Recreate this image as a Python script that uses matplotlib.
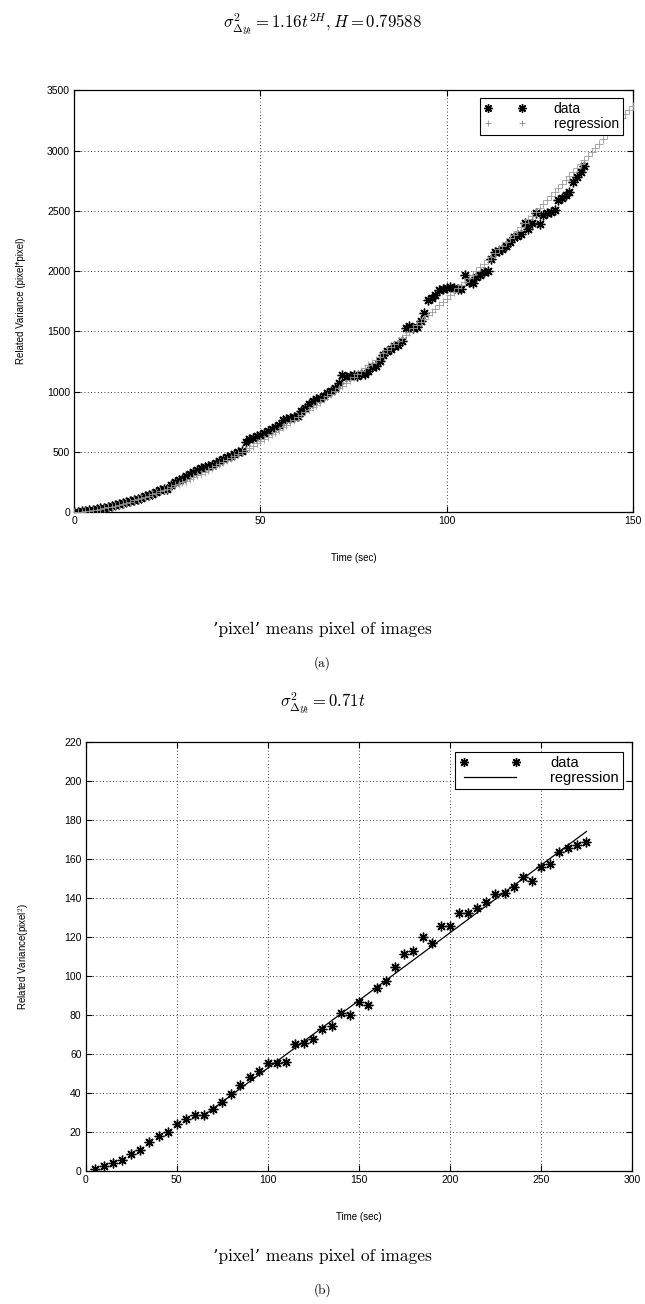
import matplotlib
matplotlib.use("Agg")
import matplotlib.pyplot as plt
from matplotlib.lines import Line2D

plt.rcParams['font.family'] = ['Liberation Sans', 'DejaVu Sans']
plt.rcParams['mathtext.fontset'] = 'cm'

# ---------------- panel (a) ----------------
t_a = list(range(0, 138))
data_a = [
    0, 3, 6, 10, 14, 18, 24, 30, 36, 43,
    50, 57, 65, 74, 82, 90, 100, 110, 120, 130,
    140, 152, 165, 180, 190, 195, 225, 245, 262, 278,
    295, 312, 330, 345, 362, 375, 380, 390, 405, 420,
    440, 455, 468, 485, 495, 510, 580, 605, 615, 628,
    640, 655, 675, 690, 705, 725, 760, 775, 780, 785,
    800, 840, 865, 900, 925, 935, 950, 965, 985, 1005,
    1030, 1070, 1140, 1125, 1130, 1135, 1130, 1145, 1150, 1170,
    1200, 1215, 1250, 1300, 1335, 1355, 1375, 1390, 1420, 1530,
    1545, 1525, 1540, 1590, 1650, 1760, 1780, 1800, 1845, 1855,
    1860, 1865, 1860, 1850, 1855, 1965, 1910, 1900, 1950, 1965,
    1990, 2005, 2100, 2155, 2170, 2185, 2210, 2245, 2280, 2295,
    2310, 2400, 2350, 2400, 2480, 2395, 2465, 2480, 2495, 2510,
    2590, 2610, 2635, 2660, 2740, 2780, 2820, 2870,
]
t_reg_a = list(range(0, 151))
reg_a = [
    0, 1.2, 3.5, 6.7, 10.5, 15.0, 20.1, 25.7, 31.8, 38.3, 45.3,
    52.7, 60.6, 68.8, 77.4, 86.4, 95.8, 105.5, 115.5, 125.9, 136.5,
    148.2, 159.9, 171.5, 183.2, 194.9, 208.0, 221.1, 234.2, 247.3, 260.4,
    274.9, 289.4, 303.8, 318.3, 332.8, 348.6, 364.4, 380.1, 395.9, 411.7,
    428.8, 445.8, 462.9, 479.9, 497.0, 515.1, 533.2, 551.3, 569.4, 587.5,
    606.8, 626.1, 645.4, 664.7, 684.0, 704.3, 724.5, 744.8, 765.0, 785.3,
    806.7, 828.0, 849.4, 870.7, 892.1, 914.5, 936.9, 959.2, 981.6, 1004,
    1027, 1050, 1073, 1097, 1120, 1144, 1168, 1193, 1217, 1241,
    1266, 1291, 1317, 1342, 1367, 1393, 1419, 1445, 1471, 1497,
    1524, 1551, 1578, 1605, 1632, 1660, 1687, 1715, 1742, 1770,
    1799, 1827, 1856, 1884, 1913, 1942, 1972, 2001, 2031, 2060,
    2090, 2121, 2151, 2182, 2212, 2243, 2274, 2304, 2335, 2366,
    2398, 2430, 2462, 2494, 2526, 2558, 2591, 2623, 2656, 2688,
    2721, 2755, 2788, 2822, 2855, 2889, 2923, 2957, 2990, 3024,
    3059, 3094, 3129, 3164, 3199, 3234, 3268, 3303, 3337, 3372,
]
xticks_a = [0, 50, 100, 150]
yticks_a = [0, 500, 1000, 1500, 2000, 2500, 3000, 3500]

# ---------------- panel (b) ----------------
t_b = [5, 10, 15, 20, 25, 30, 35, 40, 45, 50,
       55, 60, 65, 70, 75, 80, 85, 90, 95, 100,
       105, 110, 115, 120, 125, 130, 135, 140, 145, 150,
       155, 160, 165, 170, 175, 180, 185, 190, 195, 200,
       205, 210, 215, 220, 225, 230, 235, 240, 245, 250,
       255, 260, 265, 270, 275]
data_b = [1.2, 2.4, 4.1, 5.6, 8.5, 11.0, 14.7, 17.8, 19.8, 24.2,
          26.4, 28.8, 28.8, 31.6, 35.2, 39.7, 44.1, 48.2, 51.2, 55.6,
          55.6, 56.0, 65.1, 65.8, 67.8, 72.9, 74.2, 81.0, 79.8, 86.6,
          85.1, 93.8, 97.4, 104.5, 111.0, 112.7, 119.9, 117.0, 125.5, 125.8,
          132.3, 132.3, 134.9, 137.9, 142.0, 142.5, 145.4, 150.6, 148.5, 155.7,
          157.2, 163.3, 165.6, 167.1, 168.5]
t_reg_b = [65, 275]
reg_b = [28.5, 174.0]
xticks_b = [0, 50, 100, 150, 200, 250, 300]
yticks_b = [0, 20, 40, 60, 80, 100, 120, 140, 160, 180, 200, 220]

W, H = 645, 1304
fig = plt.figure(figsize=(W / 100, H / 100), dpi=100)

def px_axes(l, t, r, b):
    return fig.add_axes([l / W, 1 - b / H, (r - l) / W, (b - t) / H])

STAR = (8, 2, 0)
tick_fs = 7.5

def style(ax):
    ax.grid(True, linestyle=(0, (1, 3)), color='black', linewidth=0.6)
    ax.tick_params(direction='in', top=True, right=True, labelsize=tick_fs,
                   length=4, width=0.8, pad=3)
    for s in ax.spines.values():
        s.set_linewidth(0.9)

# panel (a)
ax1 = px_axes(74.3, 90.5, 632.7, 512)
ax1.plot(t_a, data_a, linestyle='none', marker=STAR, markersize=7,
         markeredgewidth=1.0, color='black', zorder=3)
ax1.plot(t_reg_a, reg_a, linestyle='none', marker='+', markersize=5.5,
         markeredgewidth=0.6, color='#9a9a9a', zorder=4)
ax1.set_xlim(0, 150)
ax1.set_ylim(0, 3500)
ax1.set_xticks(xticks_a)
ax1.set_yticks(yticks_a)
style(ax1)
ax1.set_xlabel('Time (sec)', fontsize=7, labelpad=19)
ax1.set_ylabel('Related Variance (pixel*pixel)', fontsize=7, labelpad=15)
h1 = [Line2D([], [], linestyle='none', marker=STAR, markersize=6,
             markeredgewidth=1.0, color='black'),
      Line2D([], [], linestyle='none', marker='+', markersize=5,
             markeredgewidth=0.6, color='#8a8a8a')]
leg1 = ax1.legend(h1, ['data', 'regression'], loc='upper right',
                  bbox_to_anchor=(0.9825, 0.983), numpoints=2, fontsize=10,
                  handlelength=3.0, handletextpad=2.0, borderpad=0.3,
                  borderaxespad=0, labelspacing=0.1, fancybox=False,
                  framealpha=1, edgecolor='black')
leg1.get_frame().set_linewidth(0.8)

# panel (b)
ax2 = px_axes(85.7, 741.7, 632, 1171)
ax2.plot(t_b, data_b, linestyle='none', marker=STAR, markersize=7,
         markeredgewidth=1.0, color='black', zorder=3)
ax2.plot(t_reg_b, reg_b, color='black', linewidth=0.9, zorder=4)
ax2.set_xlim(0, 300)
ax2.set_ylim(0, 220)
ax2.set_xticks(xticks_b)
ax2.set_yticks(yticks_b)
style(ax2)
ax2.set_xlabel('Time (sec)', fontsize=7, labelpad=19)
ax2.set_ylabel(r'Related Variance(pixel$^2$)', fontsize=7, labelpad=23)
h2 = [Line2D([], [], linestyle='none', marker=STAR, markersize=6.5,
             markeredgewidth=1.0, color='black'),
      Line2D([], [], color='black', linewidth=0.9)]
leg2 = ax2.legend(h2, ['data', 'regression'], loc='upper right',
                  bbox_to_anchor=(0.9835, 0.976), numpoints=2, fontsize=10.5,
                  handlelength=4.2, handletextpad=2.0, borderpad=0.3,
                  borderaxespad=0, labelspacing=0.05, fancybox=False,
                  framealpha=1, edgecolor='black')
leg2.get_frame().set_linewidth(0.8)

# titles / captions
serif = ['cmr10', 'DejaVu Serif']
fig.text(0.5, 1 - 24 / H, r'$\sigma^2_{\Delta y_t} = 1.16t^{2H}, H = 0.79588$',
         ha='center', va='center', fontsize=12)
fig.text(0.5, 1 - 629 / H, "’pixel’ means pixel of images",
         ha='center', va='center', fontsize=12.5, family=serif)
fig.text(0.5, 1 - 663 / H, '(a)', ha='center', va='center', fontsize=9.5,
         family=serif)
fig.text(0.5, 1 - 703 / H, r'$\sigma^2_{\Delta y_t} = 0.71t$',
         ha='center', va='center', fontsize=12)
fig.text(0.5, 1 - 1256 / H, "’pixel’ means pixel of images",
         ha='center', va='center', fontsize=12.5, family=serif)
fig.text(0.5, 1 - 1290 / H, '(b)', ha='center', va='center', fontsize=9.5,
         family=serif)

fig.savefig('out.png', dpi=100)
